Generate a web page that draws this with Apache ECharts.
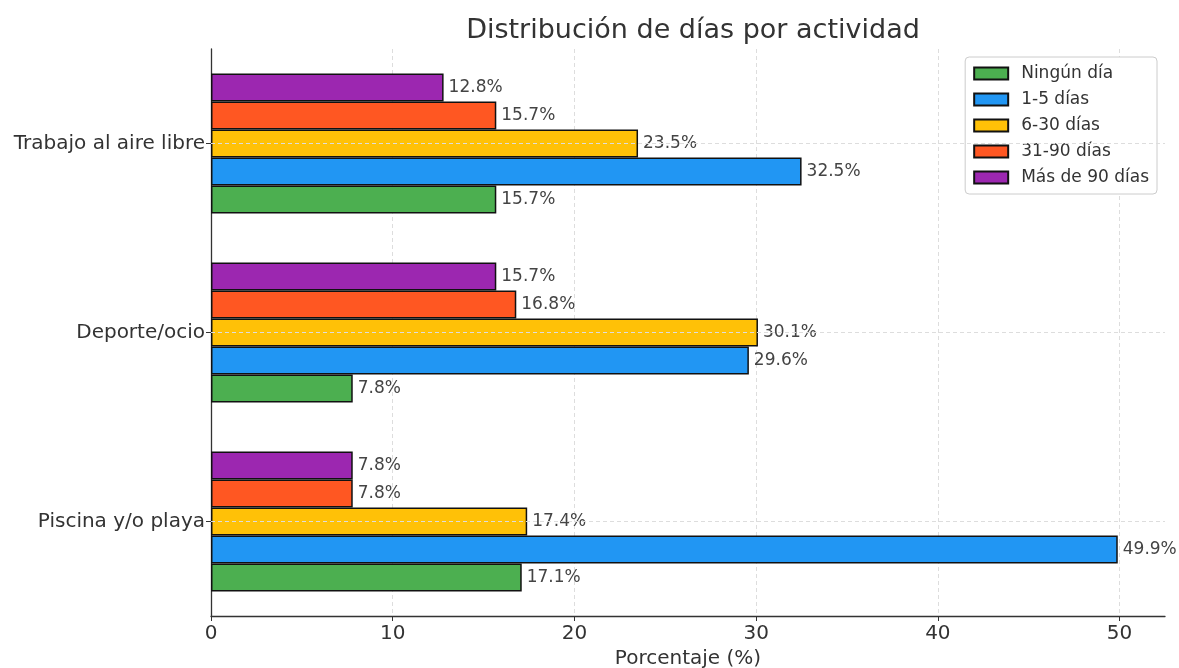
<!DOCTYPE html>
<html>
<head>
<meta charset="utf-8">
<script src="https://cdn.jsdelivr.net/npm/echarts@6/dist/echarts.min.js"></script>
<style>
  html, body { margin: 0; padding: 0; background: #fff; }
  #chart { width: 1179px; height: 668px; }
</style>
</head>
<body>
<div id="chart"></div>
<script>
// categories, bottom to top as drawn
const categories = ['Piscina y/o playa', 'Deporte/ocio', 'Trabajo al aire libre']
const seriesNames = ['Ningún día', '1-5 días', '6-30 días', '31-90 días', 'Más de 90 días']
const colors = ['#4caf50', '#2196f3', '#ffc107', '#ff5722', '#9c27b0']

// percentages per series, in category order
const ningunDia = [17.1, 7.8, 15.7]
const unoCinco = [49.9, 29.6, 32.5]
const seisTreinta = [17.4, 30.1, 23.5]
const treintaNoventa = [7.8, 16.8, 15.7]
const masNoventa = [7.8, 15.7, 12.8]
const seriesValues = [ningunDia, unoCinco, seisTreinta, treintaNoventa, masNoventa]

const xTicks = [0, 10, 20, 30, 40, 50]

const chart = echarts.init(document.getElementById('chart'))
const font = 'DejaVu Sans'

const barSeries = seriesNames.map((name, i) => ({
  name,
  type: 'bar',
  data: seriesValues[i],
  barWidth: 28,
  barGap: '0%',
  z: 3,
  itemStyle: { color: colors[i], borderColor: '#111', borderWidth: 1.5 },
  label: {
    show: true,
    position: 'right',
    distance: 5,
    formatter: p => p.value + '%',
    fontFamily: font,
    fontSize: 17,
    color: '#444'
  }
}))
// echarts puts the first series on top of each band, the reference has it at the bottom
barSeries.reverse()

const option = {
  backgroundColor: '#fff',
  animation: false,
  title: {
    text: 'Distribución de días por actividad',
    left: 688,
    top: 12,
    textAlign: 'center',
    textStyle: { fontFamily: font, fontSize: 27, fontWeight: 'normal', color: '#333' }
  },
  legend: {
    orient: 'vertical',
    right: 22,
    top: 57,
    data: seriesNames,
    itemWidth: 34,
    itemHeight: 12,
    itemGap: 7,
    padding: [7, 8, 7, 8],
    backgroundColor: '#fff',
    borderColor: '#ccc',
    borderWidth: 1,
    borderRadius: 4,
    icon: 'rect',
    textStyle: { fontFamily: font, fontSize: 17, color: '#333', padding: [0, 0, 0, 8], lineHeight: 19 }
  },
  grid: { left: 211, right: 14, top: 49, bottom: 52, containLabel: false, outerBoundsMode: 'none' },
  xAxis: {
    type: 'value',
    min: 0,
    max: 52.5,
    interval: 10,
    name: 'Porcentaje (%)',
    nameLocation: 'middle',
    nameGap: 32,
    nameTextStyle: { fontFamily: font, fontSize: 20, color: '#333' },
    axisLine: { show: true, lineStyle: { color: '#333', width: 1.3 } },
    axisTick: { show: true, length: 5, lineStyle: { color: '#333' } },
    axisLabel: {
      showMaxLabel: false,
      fontFamily: font, fontSize: 20, color: '#333', margin: 8,
      formatter: v => xTicks.includes(v) ? String(v) : ''
    },
    splitLine: { show: true, showMaxLine: false, lineStyle: { color: '#ddd', type: [4, 3], width: 1 } }
  },
  yAxis: {
    type: 'category',
    data: categories,
    axisLine: { show: true, lineStyle: { color: '#333', width: 1.3 } },
    axisTick: { show: true, alignWithLabel: true, length: 5, lineStyle: { color: '#333' } },
    axisLabel: { fontFamily: font, fontSize: 20, color: '#333', margin: 6 },
    splitLine: { show: false }
  },
  series: [
    {
      name: 'grid-y',
      type: 'line',
      data: [],
      z: 1,
      silent: true,
      markLine: {
        silent: true,
        symbol: 'none',
        label: { show: false },
        lineStyle: { color: '#ddd', type: [4, 3], width: 1 },
        data: categories.map(c => ({ yAxis: c }))
      }
    },
    ...barSeries
  ]
}

chart.setOption(option)
</script>
</body>
</html>
